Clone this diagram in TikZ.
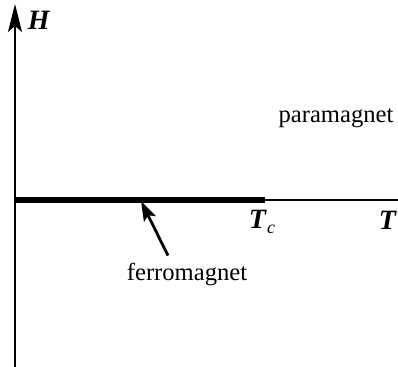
\documentclass[tikz,border=0pt]{standalone}
\usepackage{fontspec}
\setmainfont{Liberation Serif}
\usetikzlibrary{arrows.meta}
\newcommand{\tsym}[1]{{\fontsize{14}{16}\selectfont\textit{\textbf{#1}}}}
\begin{document}
\begin{tikzpicture}[x=0.5pt,y=-0.5pt,font=\fontsize{12.3}{14}\selectfont]
\useasboundingbox (0,0) rectangle (398,367);

\coordinate (o) at (15,200);
\coordinate (hbot) at (15,367);
\coordinate (htop) at (15,4);
\coordinate (tend) at (398,200);
\coordinate (tc) at (265,200);

\draw[line width=1.1pt] (hbot) -- (o);
\draw[line width=1.1pt,-{Stealth[length=14pt,width=7pt,inset=3pt]}] (o) -- (htop);
\draw[line width=1.1pt] (o) -- (tend);
\draw[line width=2.6pt] (o) -- (tc);

\node at (39,20) (hlab) {\tsym{H}};
\node at (262,222) (tclab) {\tsym{T}\raisebox{-0.5ex}{\small\textit{c}}};
\node at (388,220) (tlab) {\tsym{T}};

\node at (336,118) (para) {paramagnet};
\node at (187,275) (ferro) {ferromagnet};
\coordinate (fpt) at (141,201);

\draw[line width=1.4pt,-{Stealth[length=10pt,width=6.5pt,inset=2pt]}] (ferro.north) ++(-19,-1) -- (fpt);
\end{tikzpicture}
\end{document}
